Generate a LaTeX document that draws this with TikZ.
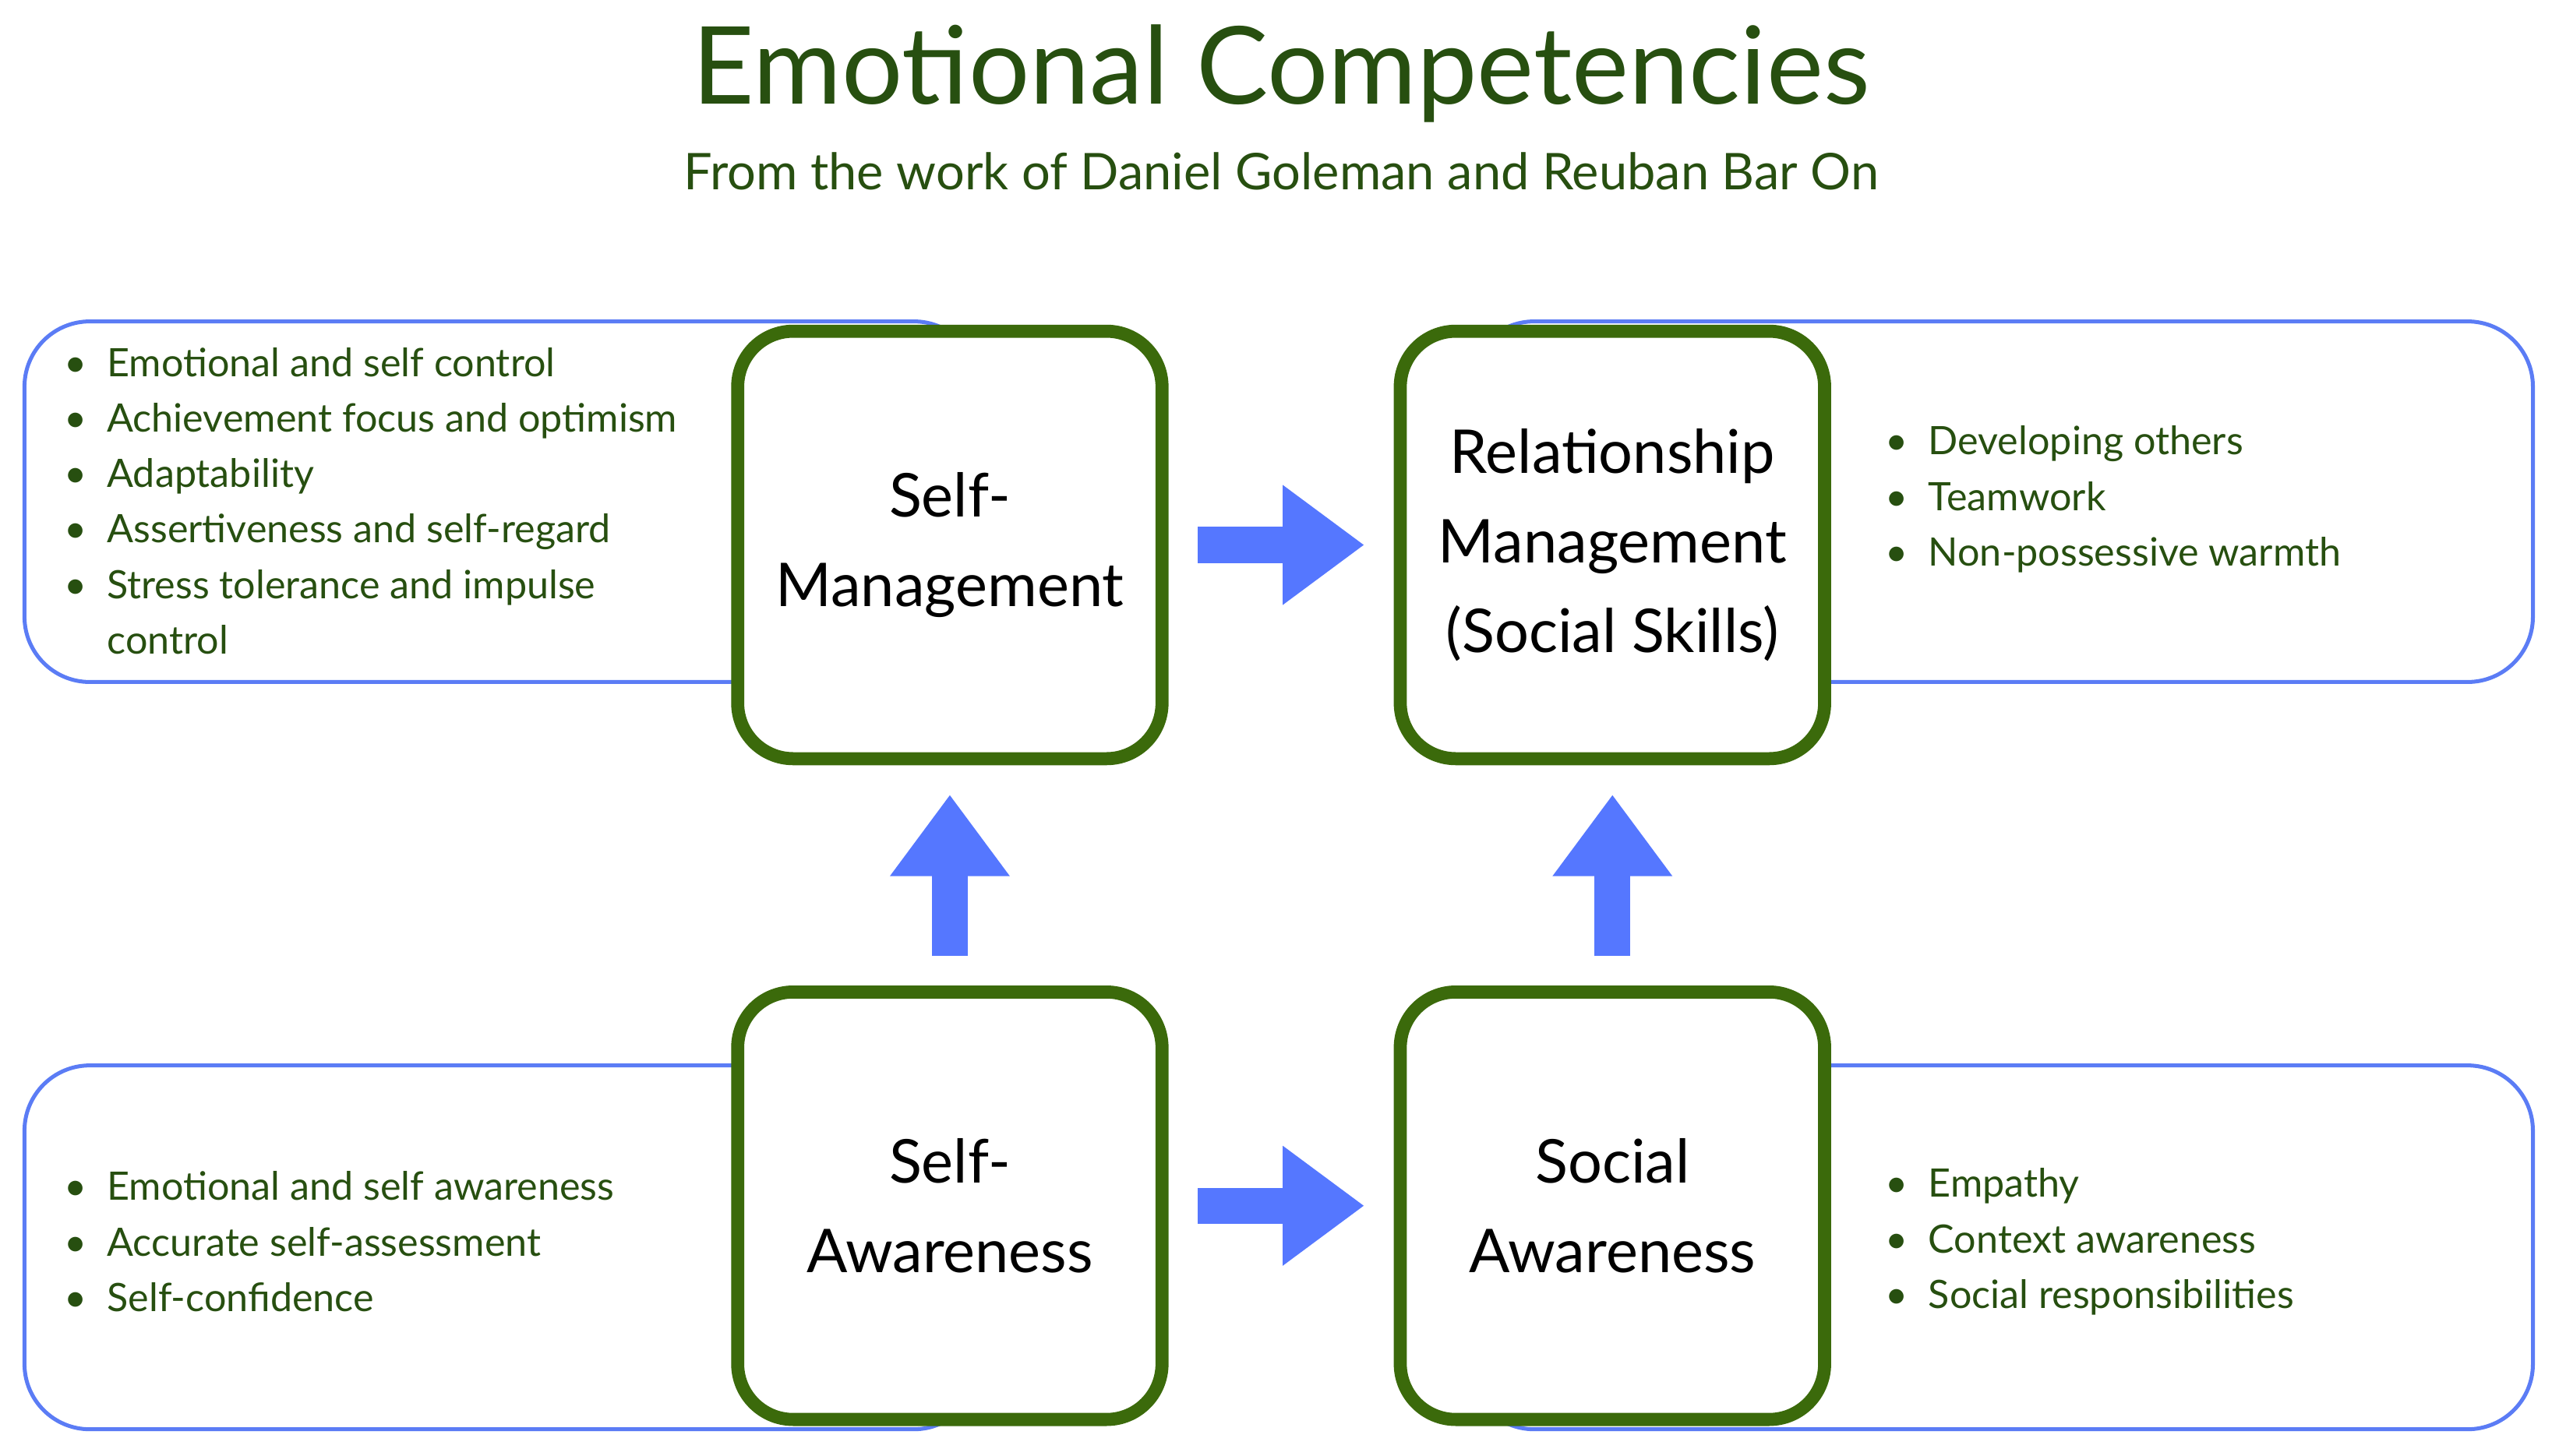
\documentclass[tikz,border=0pt]{standalone}
\usepackage{fontspec}
\setmainfont{Lato}
\usetikzlibrary{arrows.meta}
\definecolor{txtgreen}{HTML}{274F10}
\definecolor{boxgreen}{HTML}{3B6A0B}
\definecolor{lineblue}{HTML}{5B7CF5}
\definecolor{arrowblue}{HTML}{5577FF}
\tikzset{every picture/.style={line width=0.75pt}}
\tikzset{
  comp/.style={draw=boxgreen, line width=4pt, rounded corners=17pt, fill=white,
    minimum width=130pt, minimum height=131pt, align=center, text=black,
    font=\fontsize{18.5}{27.5}\selectfont},
  band/.style={draw=lineblue, line width=1.2pt, rounded corners=20pt},
  items/.style={anchor=west, align=left, text=txtgreen, font=\fontsize{12}{17}\selectfont},
  bigarrow/.style={draw=arrowblue, line width=11pt, -{Triangle[width=35pt, length=25pt]}}
}
\begin{document}
\begin{tikzpicture}[x=0.5pt,y=0.5pt,yscale=-1,xscale=1]
\useasboundingbox (0,0) rectangle (1568,892);

% bands
\draw[band] (15,197) rectangle (600,418);
\draw[band] (15,653) rectangle (600,876);
\draw[band] (900,197) rectangle (1552,418);
\draw[band] (900,653) rectangle (1552,876);

% title
\node[text=txtgreen, font=\fontsize{33}{40}\selectfont] (title) at (785,45) {Emotional Competencies};
\node[text=txtgreen, font=\fontsize{15.5}{18}\selectfont] (subtitle) at (785,105) {From the work of Daniel Goleman and Reuban Bar On};

% competency boxes
\node[comp] (mgmt) at (582,334) {Self-\\Management};
\node[comp] (rel) at (988,334) {Relationship\\Management\\(Social Skills)};
\node[comp] (aware) at (582,739) {Self-\\Awareness};
\node[comp] (social) at (988,739) {Social\\Awareness};

% arrows
\path (aware.north) ++(0,-18) coordinate (a1) (mgmt.south) ++(0,18) coordinate (a2);
\path (social.north) ++(0,-18) coordinate (b1) (rel.south) ++(0,18) coordinate (b2);
\path (mgmt.east) ++(18,0) coordinate (c1) (rel.west) ++(-18,0) coordinate (c2);
\path (aware.east) ++(18,0) coordinate (d1) (social.west) ++(-18,0) coordinate (d2);
\draw[bigarrow] (a1) -- (a2);
\draw[bigarrow] (b1) -- (b2);
\draw[bigarrow] (c1) -- (c2);
\draw[bigarrow] (d1) -- (d2);

% lists
\node[items] (mgmtlist) at (32,307) {%
  • \ Emotional and self control\\
  • \ Achievement focus and optimism\\
  • \ Adaptability\\
  • \ Assertiveness and self-regard\\
  • \ Stress tolerance and impulse\\
  \phantom{• \ }control};
\node[items] (rellist) at (1148,306) {%
  • \ Developing others\\
  • \ Teamwork\\
  • \ Non-possessive warmth};
\node[items] (awarelist) at (32,761) {%
  • \ Emotional and self awareness\\
  • \ Accurate self-assessment\\
  • \ Self-confidence};
\node[items] (sociallist) at (1148,761) {%
  • \ Empathy\\
  • \ Context awareness\\
  • \ Social responsibilities};
\end{tikzpicture}
\end{document}
